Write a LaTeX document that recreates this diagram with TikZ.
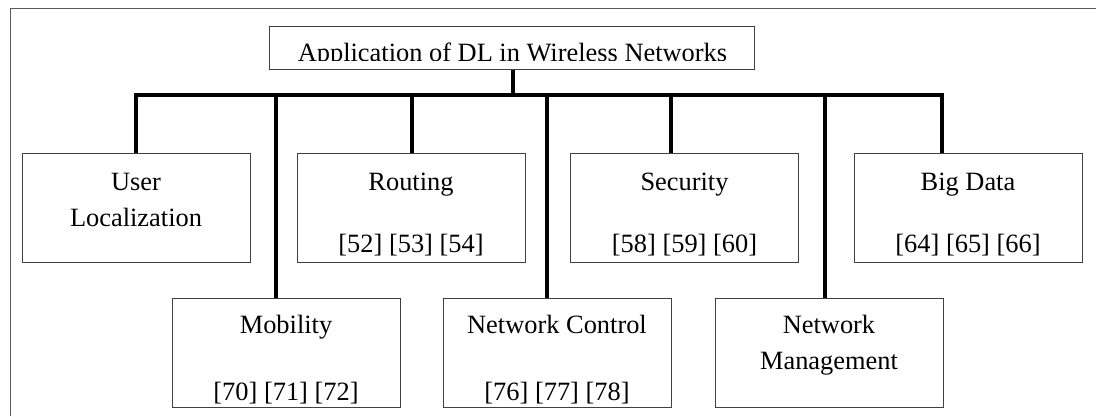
\documentclass[tikz,border=0pt]{standalone}
\usepackage{fontspec}
\setmainfont{Liberation Serif}
\begin{document}
\begin{tikzpicture}[x=1pt,y=-1pt,
  box/.style={draw=black!75,line width=1pt,minimum width=228pt,minimum height=109pt,inner sep=0pt},
  lbl/.style={anchor=base,inner sep=0pt,font=\fontsize{26.4}{31}\selectfont},
  conn/.style={line width=3.7pt,line join=miter,line cap=butt},
  frame/.style={draw=black!65,line width=1pt}]
\useasboundingbox (0,0) rectangle (1096,416);
% outer frame (cropped)
\draw[frame] (10,416) -- (10,8) -- (1096,8);
% title
\node[draw=black!75,line width=1pt,minimum width=485pt,minimum height=43pt,inner sep=0pt] (title) at (511.5,47.5) {};
\begin{scope}
\clip (270,27) rectangle (753,60.5);
\node[lbl] (titletext) at (512.5,61) {Application of DL in Wireless Networks};
\end{scope}
% top row boxes
\node[box] (ul) at (136,208) {};
\node[box] (rt) at (411,208) {};
\node[box] (sec) at (684.5,208) {};
\node[box] (bd) at (968,208) {};
% bottom row boxes
\node[box] (mob) at (286,352.5) {};
\node[box] (nc) at (557,352.5) {};
\node[box] (nm) at (829,352.5) {};
% texts
\node[lbl] (ult1) at (136,190) {User};
\node[lbl] (ult2) at (136,226) {Localization};
\node[lbl] (rtt1) at (411,190) {Routing};
\node[lbl] (rtt2) at (411,252) {[52] [53] [54]};
\node[lbl] (sect1) at (684.5,190) {Security};
\node[lbl] (sect2) at (684.5,252) {[58] [59] [60]};
\node[lbl] (bdt1) at (968,190) {Big Data};
\node[lbl] (bdt2) at (968,252) {[64] [65] [66]};
\node[lbl] (mobt1) at (286,333) {Mobility};
\node[lbl] (mobt2) at (286,400) {[70] [71] [72]};
\node[lbl] (nct1) at (557,333) {Network Control};
\node[lbl] (nct2) at (557,400) {[76] [77] [78]};
\node[lbl] (nmt1) at (829,333) {Network};
\node[lbl] (nmt2) at (829,369) {Management};
% bus coordinates
\coordinate (d0) at (513,95);
\coordinate (d1) at (136,95);
\coordinate (d2) at (276,95);
\coordinate (d3) at (412,95);
\coordinate (d4) at (547,95);
\coordinate (d5) at (671,95);
\coordinate (d6) at (825,95);
\coordinate (d7) at (942,95);
% connectors
\draw[conn] (d0 |- title.south) -- (d0);
\draw[conn] (d1 |- ul.north) -- (d1) -- (d7) -- (d7 |- bd.north);
\draw[conn] (d2) -- (d2 |- mob.north);
\draw[conn] (d3) -- (d3 |- rt.north);
\draw[conn] (d4) -- (d4 |- nc.north);
\draw[conn] (d5) -- (d5 |- sec.north);
\draw[conn] (d6) -- (d6 |- nm.north);
\end{tikzpicture}
\end{document}
